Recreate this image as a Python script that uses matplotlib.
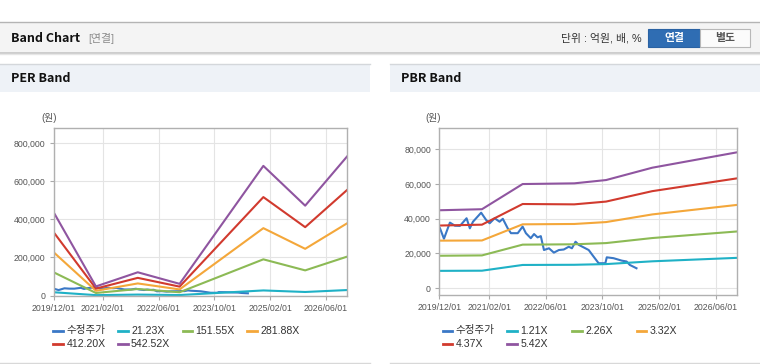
import matplotlib
matplotlib.use('Agg')
import matplotlib.pyplot as plt
import matplotlib.dates as mdates
from matplotlib.lines import Line2D
from matplotlib.patches import Rectangle
import pandas as pd

plt.rcParams['font.family'] = ['Liberation Sans', 'Noto Sans CJK KR']

# ---- data ----
price_dates = ['2019-12-07', '2020-01-10', '2020-03-01', '2020-04-13', '2020-05-26', '2020-07-22',
               '2020-08-19', '2020-09-15', '2020-11-24', '2021-01-06', '2021-02-05', '2021-03-20',
               '2021-05-01', '2021-05-29', '2021-07-10', '2021-08-07', '2021-10-04', '2021-11-15',
               '2021-12-13', '2022-01-24', '2022-02-21', '2022-03-23', '2022-04-20', '2022-05-17',
               '2022-06-29', '2022-08-10', '2022-09-22', '2022-11-03', '2022-12-16', '2023-01-12',
               '2023-02-12', '2023-03-11', '2023-04-23', '2023-06-05', '2023-07-17', '2023-08-29',
               '2023-10-26', '2023-11-07', '2024-01-04', '2024-03-14', '2024-04-25', '2024-05-23',
               '2024-07-19']
price = [34500, 28500, 37800, 36000, 35900, 40300, 34500, 38300, 43500, 39300, 37400, 40300,
         38300, 40000, 34500, 31700, 31700, 35500, 31700, 28800, 31200, 29300, 30000, 22000,
         23000, 20500, 22000, 22300, 23900, 23000, 26800, 25000, 23500, 22000, 18200, 14400,
         14400, 17800, 17300, 15900, 15400, 13400, 11500]

per_dates = ['2019-12-01', '2020-12-01', '2021-12-01', '2022-12-01', '2024-12-01', '2025-12-01', '2026-12-01']
per_21 = [17000, 1900, 4800, 2400, 26600, 18500, 28600]
per_151 = [121000, 13300, 34100, 17100, 190000, 132000, 204000]
per_281 = [225500, 24800, 63400, 31900, 353800, 245200, 379000]
per_412 = [330000, 36300, 92700, 46600, 517000, 359000, 554000]
per_542 = [434000, 47700, 122000, 61300, 681000, 472000, 730000]
per_labels = ['수정주가', '21.23X', '151.55X', '281.88X', '412.20X', '542.52X']

pbr_dates = ['2019-12-01', '2020-12-01', '2021-11-15', '2023-02-01', '2023-11-01', '2024-12-01', '2026-12-01']
pbr_121 = [10000, 10100, 13400, 13500, 13900, 15500, 17500]
pbr_226 = [18700, 18900, 25100, 25300, 26000, 28900, 32700]
pbr_332 = [27400, 27500, 36800, 37000, 38100, 42500, 48000]
pbr_437 = [36100, 36600, 48500, 48300, 49900, 55900, 63300]
pbr_542 = [44900, 45500, 60000, 60400, 62300, 69400, 78300]
pbr_labels = ['수정주가', '1.21X', '2.26X', '3.32X', '4.37X', '5.42X']

xtick_labels = ['2019/12/01', '2021/02/01', '2022/06/01', '2023/10/01', '2025/02/01', '2026/06/01']
colors = ['#3a78c6', '#1fb1c6', '#8cba55', '#f4a73a', '#d13a2e', '#8f55a0']

W, H = 760, 364
fig = plt.figure(figsize=(W / 100, H / 100), dpi=100)


def fx(px):
    return px / W


def fy(py):
    return 1 - py / H


def rect(x0, y0, x1, y1, **kw):
    fig.add_artist(Rectangle((fx(x0), fy(y1)), fx(x1) - fx(x0), fy(y0) - fy(y1),
                             transform=fig.transFigure, **kw))


def hline(x0, x1, y, color, lw=1):
    fig.add_artist(Line2D([fx(x0), fx(x1)], [fy(y), fy(y)], transform=fig.transFigure,
                          color=color, lw=lw))


# top header bar
rect(0, 22, 760, 52, facecolor='#f4f4f4', edgecolor='none')
hline(0, 760, 22, '#b4b4b4')
hline(0, 760, 52.5, '#c4c4c4', 1.2)
hline(0, 760, 54, '#e6e6e6', 1)
fig.text(fx(11), fy(38), 'Band Chart', fontsize=9, fontweight='bold', color='#111111',
         family='Noto Sans CJK KR', va='center')
fig.text(fx(88), fy(38), '[연결]', fontsize=7.8, color='#8a8a8a', va='center')
fig.text(fx(642), fy(38), '단위 : 억원, 배, %', fontsize=7.8, color='#333333', va='center', ha='right')
rect(648, 29, 700, 47, facecolor='#2f6db3', edgecolor='#2a62a3', lw=0.8)
rect(700, 29, 750, 47, facecolor='#fbfbfb', edgecolor='#b8b8b8', lw=0.8)
fig.text(fx(674), fy(38), '연결', fontsize=7.8, color='white', fontweight='bold',
         family='Noto Sans CJK KR', va='center', ha='center')
fig.text(fx(725), fy(38), '별도', fontsize=7.8, color='#555555', fontweight='bold',
         family='Noto Sans CJK KR', va='center', ha='center')

# panel headers
for x0, x1, title in [(0, 370, 'PER Band'), (390, 760, 'PBR Band')]:
    rect(x0, 64, x1, 92, facecolor='#eef2f7', edgecolor='none')
    hline(x0, x1, 64, '#d4d7db')
    hline(x0, x1, 362.5, '#d8d8d8')
    fig.text(fx(x0 + 11), fy(79), title, fontsize=9, fontweight='bold', color='#111111',
             family='Noto Sans CJK KR', va='center')


def style_axis(ax, ylim, yticks):
    ax.set_xlim(pd.Timestamp('2019-12-01'), pd.Timestamp('2026-12-01'))
    ax.set_ylim(*ylim)
    ax.set_xticks(pd.to_datetime(xtick_labels, format='%Y/%m/%d'))
    ax.set_xticklabels(xtick_labels)
    ax.set_yticks(yticks)
    ax.set_yticklabels(['{:,}'.format(v) for v in yticks])
    ax.grid(True, color='#e4e4e4', lw=0.8)
    ax.set_axisbelow(True)
    for s in ax.spines.values():
        s.set_color('#b0b0b0')
        s.set_linewidth(1)
    ax.tick_params(axis='both', length=3, width=0.8, color='#aaaaaa', labelsize=6.3,
                   labelcolor='#555555', pad=3)


def legend(x0, labels):
    ys = [330.5, 344]
    for i, (lab, c) in enumerate(zip(labels, colors)):
        row, col = divmod(i, 4)
        x = x0 + col * 64.7
        y = ys[row]
        fig.add_artist(Line2D([fx(x), fx(x + 9.5)], [fy(y), fy(y)], transform=fig.transFigure,
                              color=c, lw=2))
        fig.text(fx(x + 13), fy(y), lab, fontsize=7.6, color='#333333', va='center')


# PER band
ax1 = fig.add_axes([fx(54), fy(295.5), fx(347) - fx(54), fy(128) - fy(295.5)])
pdt = pd.to_datetime(price_dates)
edt = pd.to_datetime(per_dates)
ax1.plot(pdt, price, color=colors[0], lw=1.5)
for vals, c in zip([per_21, per_151, per_281, per_412, per_542], colors[1:]):
    ax1.plot(edt, vals, color=c, lw=1.5)
style_axis(ax1, (0, 880000), [0, 200000, 400000, 600000, 800000])
fig.text(fx(49), fy(118), '(원)', fontsize=7, color='#555555', ha='center', va='center')
legend(53.3, per_labels)

# PBR band
ax2 = fig.add_axes([fx(439.3), fy(295), fx(737.3) - fx(439.3), fy(128.3) - fy(295)])
bdt = pd.to_datetime(pbr_dates)
ax2.plot(pdt, price, color=colors[0], lw=1.5)
for vals, c in zip([pbr_121, pbr_226, pbr_332, pbr_437, pbr_542], colors[1:]):
    ax2.plot(bdt, vals, color=c, lw=1.5)
style_axis(ax2, (-3900, 92100), [0, 20000, 40000, 60000, 80000])
fig.text(fx(433), fy(118), '(원)', fontsize=7, color='#555555', ha='center', va='center')
legend(442.7, pbr_labels)

fig.savefig('out.png', dpi=100)
